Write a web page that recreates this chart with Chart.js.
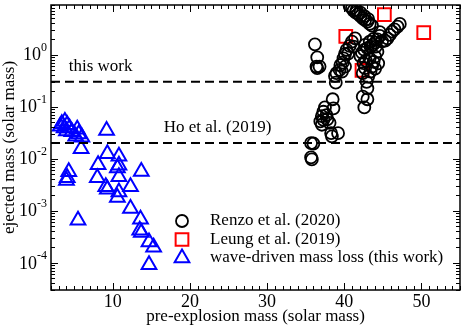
<!DOCTYPE html>
<html>
<head>
<meta charset="utf-8">
<script src="https://cdn.jsdelivr.net/npm/chart.js@4"></script>
<style>
  html, body { margin: 0; padding: 0; background: #fff; }
</style>
</head>
<body>
<canvas id="myChart" width="462" height="327"></canvas>
<script>
// Renzo et al. (2020) - pre-explosion mass vs ejected mass
const renzoMass = [
  40.7, 41.0, 41.2, 41.5, 41.8, 42.1, 42.4, 42.7, 43.0, 43.3, 43.6, 41.6, 42.1, 42.6, 43.1,
  47.2, 46.9, 46.5, 46.2, 45.9, 45.6, 45.3, 44.9, 44.6, 44.3, 44.0, 43.7, 43.4, 43.0, 42.6,
  42.3, 42.1, 42.7, 43.3, 43.8, 44.1, 44.3, 44.0, 43.8, 43.6, 43.4, 43.1, 42.9, 43.0, 42.4,
  43.0, 42.6, 42.8, 43.3, 42.7, 42.4, 42.5, 44.4, 44.0, 44.6,
  41.4, 41.0, 40.7, 40.3, 40.1, 39.9, 39.8, 39.5, 39.4, 39.7, 39.0, 38.8, 38.9, 40.1, 40.5, 41.2,
  36.2, 36.5, 36.5, 36.8, 36.4,
  38.5, 38.6, 37.5, 37.3, 37.1, 37.7, 37.3, 37.8, 36.9, 37.1, 38.1, 38.3, 39.2, 38.4,
  35.7, 36.0, 35.7, 35.8
];
const renzoEjecta = [
  8.6, 7.8, 7.0, 6.4, 6.1, 5.5, 5.0, 4.6, 4.3, 3.9, 3.6, 7.2, 6.4, 5.5, 4.8,
  3.9, 3.45, 3.07, 2.77, 2.39, 2.06, 1.86, 1.8, 2.29, 1.97, 1.7, 1.54, 1.43, 1.33, 1.23,
  1.09, 0.94, 1.54, 1.77, 2.0, 1.43, 1.14, 0.92, 0.73, 0.59, 0.47, 0.38, 0.30, 0.225, 0.156,
  0.139, 0.097, 0.77, 0.85, 0.55, 0.44, 0.69, 0.68, 0.54, 2.7,
  2.06, 1.78, 1.47, 1.23, 1.03, 0.85, 0.70, 0.63, 0.51, 0.47, 0.44, 0.39, 0.29, 0.59, 1.05, 1.43,
  1.58, 0.89, 0.55, 0.59, 0.59,
  0.139, 0.093, 0.097, 0.080, 0.066, 0.069, 0.056, 0.057, 0.052, 0.045, 0.049, 0.031, 0.031, 0.027,
  0.020, 0.0196, 0.0106, 0.0097
];

// Leung et al. (2019)
const leungMass = [40.2, 42.3, 45.2, 50.3];
const leungEjecta = [2.24, 0.5, 5.9, 2.64];

// wave-driven mass loss (this work)
const waveMass = [
  3.4, 3.8, 4.1, 3.7, 4.4, 4.0, 5.4, 4.7, 5.6, 5.2, 6.0, 3.2,
  9.2, 5.9, 9.3, 10.8, 8.1, 10.8, 10.6, 13.7, 4.3, 4.0, 4.1, 8.0, 10.8,
  12.3, 9.1, 9.3, 10.8, 10.6, 12.3, 5.5, 13.6, 13.5, 13.7, 14.7, 15.3, 14.7
];
const waveEjecta = [
  0.047, 0.052, 0.045, 0.039, 0.039, 0.034, 0.037, 0.033, 0.030, 0.027, 0.026, 0.042,
  0.035, 0.0156, 0.0125, 0.0111, 0.0077, 0.0075, 0.0066, 0.0057, 0.0056, 0.0038, 0.0043, 0.0043, 0.0045,
  0.0029, 0.0029, 0.0026, 0.0023, 0.0018, 0.0011, 0.00066, 0.00069, 0.00042, 0.00038, 0.00025, 0.0002, 0.000092
];

// horizontal reference levels
const refLevels = [0.3, 0.02];
const refLabels = ["this work", "Ho et al. (2019)"];
const refLabelX = [4.3, 16.6];
const refLabelY = [0.58, 0.04];

const xRange = [2, 55];
const yRange = [3e-5, 9];
const xTickLabels = [10, 20, 30, 40, 50];
const yTickExps = [0, -1, -2, -3, -4];

const legendNames = ["Renzo et al. (2020)", "Leung et al. (2019)", "wave-driven mass loss (this work)"];

const SERIF = '"Liberation Serif", "DejaVu Serif", serif';

function pts(xs, ys) {
  return xs.map((x, i) => ({ x: x, y: ys[i] }));
}

const styles = [
  { pointStyle: "circle", radius: 6, borderColor: "#000000", borderWidth: 1.8 },
  { pointStyle: "rect", radius: 9, borderColor: "#ff0000", borderWidth: 2 },
  { pointStyle: "triangle", radius: 8.5, borderColor: "#0000ff", borderWidth: 2 }
];

const refDatasets = refLevels.map(v => ({
  type: "line",
  data: [{ x: xRange[0], y: v }, { x: xRange[1], y: v }],
  borderColor: "#000",
  borderWidth: 2,
  borderDash: [9, 5],
  pointRadius: 0,
  fill: false
}));

const frame = {
  id: "frame",
  afterDraw(chart) {
    const ctx = chart.ctx;
    const a = chart.chartArea;
    const xs = chart.scales.x, ys = chart.scales.y;
    ctx.save();
    ctx.strokeStyle = "#000";
    ctx.lineWidth = 1.5;
    ctx.strokeRect(a.left, a.top, a.right - a.left, a.bottom - a.top);

    // inward ticks, x
    ctx.lineWidth = 1;
    ctx.beginPath();
    for (let v = xRange[0]; v <= xRange[1]; v++) {
      const px = Math.round(xs.getPixelForValue(v)) + 0.5;
      const len = v % 10 === 0 ? 7 : 4;
      ctx.moveTo(px, a.bottom); ctx.lineTo(px, a.bottom - len);
      ctx.moveTo(px, a.top); ctx.lineTo(px, a.top + len);
    }
    // inward ticks, y (log)
    for (let k = -5; k <= 1; k++) {
      for (let m = 1; m <= 9; m++) {
        const v = m * Math.pow(10, k);
        if (v < yRange[0] || v > yRange[1]) continue;
        const py = Math.round(ys.getPixelForValue(v)) + 0.5;
        const len = m === 1 ? 7 : 4;
        ctx.moveTo(a.left, py); ctx.lineTo(a.left + len, py);
        ctx.moveTo(a.right, py); ctx.lineTo(a.right - len, py);
      }
    }
    ctx.stroke();

    ctx.fillStyle = "#000";
    // x tick labels
    ctx.font = "18px " + SERIF;
    ctx.textAlign = "center";
    ctx.textBaseline = "top";
    xTickLabels.forEach(v => {
      ctx.fillText(String(v), xs.getPixelForValue(v), a.bottom + 3);
    });

    // y tick labels 10^k
    ctx.textBaseline = "middle";
    yTickExps.forEach(k => {
      const py = ys.getPixelForValue(Math.pow(10, k));
      ctx.font = "12px " + SERIF;
      const sup = k < 0 ? "-" + Math.abs(k) : String(k);
      const sw = ctx.measureText(sup).width;
      const right = a.left - 4;
      ctx.textAlign = "right";
      ctx.fillText(sup, right, py - 7);
      ctx.font = "18px " + SERIF;
      ctx.fillText("10", right - sw, py + 1);
    });

    // axis titles
    ctx.font = "17px " + SERIF;
    ctx.textAlign = "center";
    ctx.textBaseline = "middle";
    ctx.fillText("pre-explosion mass (solar mass)", (a.left + a.right) / 2, 317);
    ctx.save();
    ctx.translate(10, (a.top + a.bottom) / 2);
    ctx.rotate(-Math.PI / 2);
    ctx.fillText("ejected mass (solar mass)", 0, 0);
    ctx.restore();

    // reference line labels
    ctx.textAlign = "left";
    refLabels.forEach((t, i) => {
      ctx.fillText(t, xs.getPixelForValue(refLabelX[i]), ys.getPixelForValue(refLabelY[i]));
    });

    // legend
    const lx = 182, tx = 210, rows = [221, 239.5, 258];
    legendNames.forEach((name, i) => {
      const s = styles[i];
      ctx.strokeStyle = s.borderColor;
      ctx.fillStyle = "rgba(0,0,0,0)";
      ctx.lineWidth = s.borderWidth;
      Chart.helpers.drawPoint(ctx, { pointStyle: s.pointStyle, radius: s.radius, rotation: 0, borderWidth: s.borderWidth }, lx, rows[i]);
      ctx.fillStyle = "#000";
      ctx.fillText(name, tx, rows[i]);
    });
    ctx.restore();
  }
};

function pointSet(data, s) {
  return {
    type: "scatter",
    data: data,
    pointStyle: s.pointStyle,
    pointRadius: s.radius,
    pointHoverRadius: s.radius,
    borderColor: s.borderColor,
    backgroundColor: "rgba(0,0,0,0)",
    borderWidth: s.borderWidth,
    showLine: false
  };
}

const ctx = document.getElementById("myChart").getContext("2d");
const myChart = new Chart(ctx, {
  type: "scatter",
  data: {
    datasets: [
      ...refDatasets,
      pointSet(pts(renzoMass, renzoEjecta), styles[0]),
      pointSet(pts(leungMass, leungEjecta), styles[1]),
      pointSet(pts(waveMass, waveEjecta), styles[2])
    ]
  },
  options: {
    responsive: false,
    animation: false,
    devicePixelRatio: 1,
    layout: { autoPadding: false, padding: { top: 5, right: 2, left: 0, bottom: 0 } },
    plugins: { legend: { display: false }, tooltip: { enabled: false } },
    scales: {
      x: {
        type: "linear",
        min: xRange[0],
        max: xRange[1],
        ticks: { display: false },
        grid: { display: false },
        border: { display: false },
        afterFit: s => { s.height = 37; }
      },
      y: {
        type: "logarithmic",
        min: yRange[0],
        max: yRange[1],
        ticks: { display: false },
        grid: { display: false },
        border: { display: false },
        afterFit: s => { s.width = 51; }
      }
    }
  },
  plugins: [frame]
});
</script>
</body>
</html>
